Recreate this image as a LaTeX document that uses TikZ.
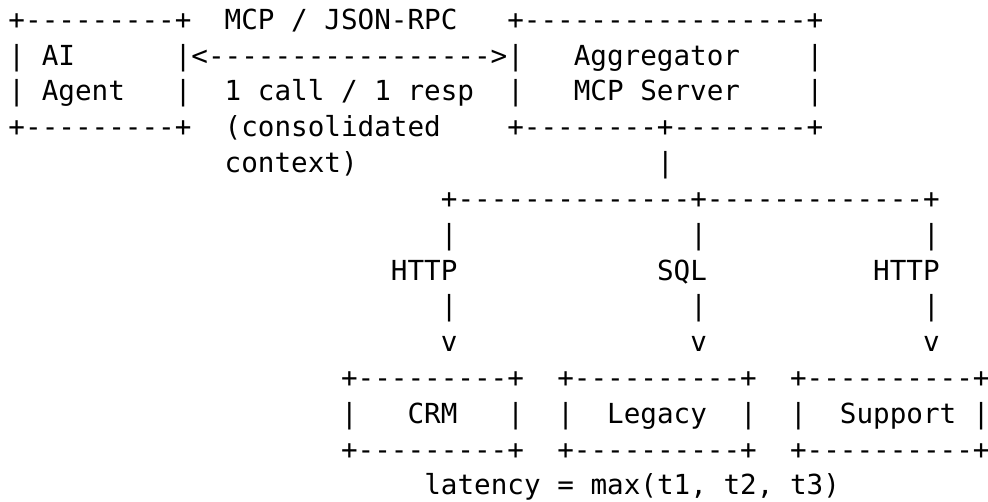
\documentclass[tikz,border=0pt]{standalone}
\usepackage{fontspec}
\setmonofont{DejaVu Sans Mono}
% Grid of the character cells: cell width, line pitch, left margin, first baseline (pt)
\newcommand\cellw{16.63}
\newcommand\cellh{35.83}
\newcommand\leftpad{8.5}
\newcommand\firstbase{29.2}
% \artrow{name}{start column}{line number}{text}
\newcommand\artrow[4]{%
  \node[rowtext] (#1) at ({(\leftpad+#2*\cellw)*1pt},{-(\firstbase+(#3-1)*\cellh)*1pt}) {#4};}
\begin{document}
\begin{tikzpicture}[
  rowtext/.style={anchor=base west, inner sep=0pt, outer sep=0pt,
    font=\ttfamily\fontsize{27.62pt}{35.83pt}\selectfont, text=black}
]
\fill[white] (0,0) rectangle (988pt,-502pt);
\useasboundingbox (0,0) rectangle (988pt,-502pt);

% agent and aggregator boxes with the request/response link
\artrow{r01}{0}{1}{+---------+~~MCP~/~JSON-RPC~~~+-----------------+}
\artrow{r02}{0}{2}{|~AI~~~~~~|<----------------->|~~~Aggregator~~~~|}
\artrow{r03}{0}{3}{|~Agent~~~|~~1~call~/~1~resp~~|~~~MCP~Server~~~~|}
\artrow{r04}{0}{4}{+---------+~~(consolidated~~~~+--------+--------+}
\artrow{r05}{13}{5}{context)~~~~~~~~~~~~~~~~~~|}

% fan-out to the three back ends
\artrow{r06}{26}{6}{+--------------+-------------+}
\artrow{r07}{26}{7}{|~~~~~~~~~~~~~~|~~~~~~~~~~~~~|}
\artrow{r08}{23}{8}{HTTP~~~~~~~~~~~~SQL~~~~~~~~~~HTTP}
\artrow{r09}{26}{9}{|~~~~~~~~~~~~~~|~~~~~~~~~~~~~|}
\artrow{r10}{26}{10}{v~~~~~~~~~~~~~~v~~~~~~~~~~~~~v}

% back-end systems
\artrow{r11}{20}{11}{+---------+~~+----------+~~+----------+}
\artrow{r12}{20}{12}{|~~~CRM~~~|~~|~~Legacy~~|~~|~~Support~|}
\artrow{r13}{20}{13}{+---------+~~+----------+~~+----------+}
\artrow{r14}{25}{14}{latency~=~max(t1,~t2,~t3)}
\end{tikzpicture}
\end{document}
